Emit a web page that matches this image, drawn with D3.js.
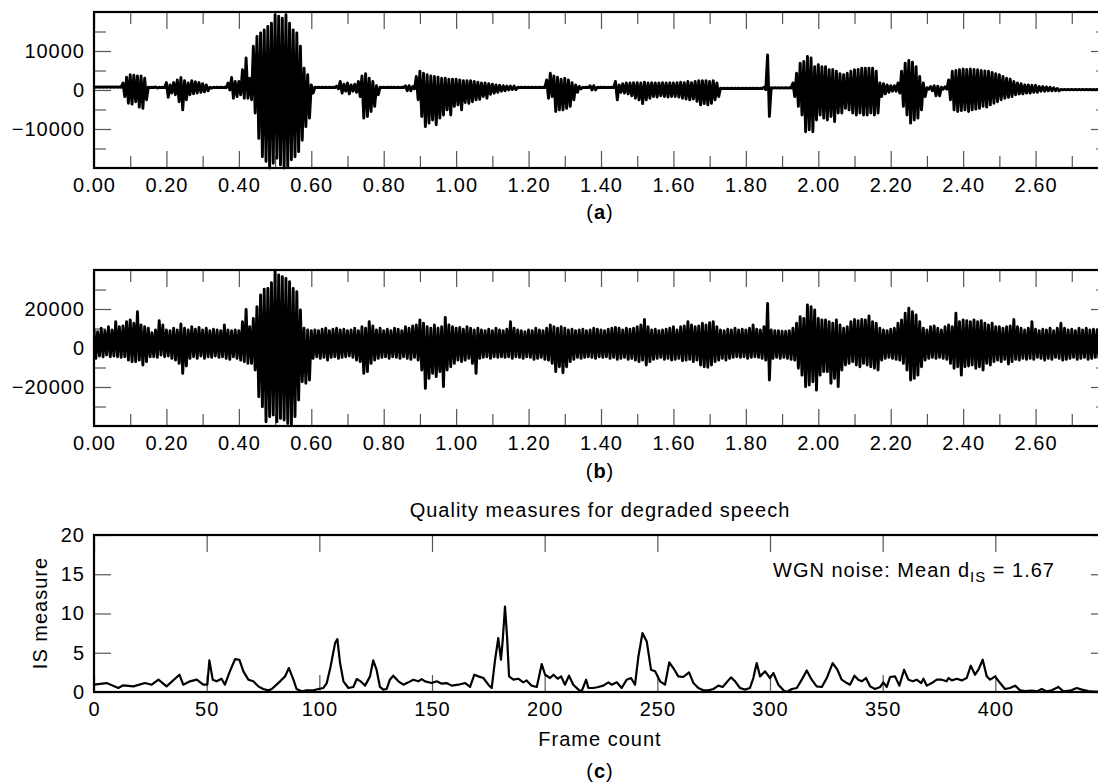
<!DOCTYPE html>
<html>
<head>
<meta charset="utf-8">
<script src="https://cdn.jsdelivr.net/npm/d3@7"></script>
<style>
  body { margin: 0; background: #fff; }
  svg { display: block; font-family: "Liberation Sans", Arial, Helvetica, sans-serif; }
  .tick line { stroke: #555; stroke-width: 1.2px; }
  .domain { display: none; }
  .tick text { font-size: 20px; fill: #000; letter-spacing: 1px; }
  .lbl { font-size: 20px; fill: #000; letter-spacing: 1px; }
</style>
</head>
<body>
<svg id="chart"></svg>
<script>
// ---- data ----
// waveform envelopes, one value per 10 ms, from t = 0.00 s
const sampleStep = 0.01;

const cleanHi = [
  800,800,800,800,800,800,800,800,1800,3300,
  3900,3800,3600,3600,3000,700,700,800,700,700,
  1900,1300,1900,2600,3200,2400,1800,2400,2100,1900,
  1600,1300,700,700,700,700,700,1800,3200,2200,
  2200,5200,8200,3000,11200,13700,14600,15400,16300,17100,
  19300,18900,18400,19300,17100,15400,14600,11200,5600,3900,
  1300,700,700,700,700,700,700,1000,2200,1500,
  1800,1300,1500,2200,3600,4200,3000,2200,1100,700,
  700,700,700,700,700,700,1100,1100,900,3500,
  4800,4300,3900,3600,3500,3300,3000,3000,2800,2800,
  2800,2600,2400,2400,2400,2200,2000,1800,1800,1600,
  1500,1300,1200,1100,1000,1000,1000,700,700,700,
  700,700,700,700,700,2600,4300,3600,3300,2800,
  3000,2600,1900,1300,900,700,700,1100,1100,700,
  700,700,700,700,2200,1300,1600,1800,1800,1900,
  1900,1800,2000,1800,1900,1800,1800,1900,1800,1900,
  1800,1900,2000,1900,2200,1900,2200,2400,2400,2400,
  2200,2400,1800,450,450,450,450,450,450,450,
  450,450,450,450,450,700,9000,600,600,600,
  600,600,600,1800,4300,6900,7300,8600,8200,6000,
  6500,6000,6000,5200,5300,4800,4200,3900,4300,4800,
  5200,5300,5600,5600,5600,5600,4800,1800,1600,1300,
  1100,1100,1800,4800,6900,7600,7100,6000,3500,1800,
  600,900,1100,1000,700,800,2600,4800,5000,5200,
  5400,5300,5400,5300,5200,5000,4900,4800,4500,4200,
  3900,3500,3000,2800,2200,1800,1600,1300,1300,1200,
  1200,900,900,800,700,600,400,150,150,150,
  150,150,150,150,150,150,150,150
];
const cleanLo = [
  700,700,700,700,700,700,700,700,-1700,-3400,
  -3600,-3000,-4400,-4700,-2500,600,600,500,600,600,
  -1900,-800,-1200,-3000,-5100,-2500,-1200,-1000,-800,-600,
  -500,-200,500,600,600,600,600,0,-2100,-1700,
  -1200,-2100,-2100,-2500,-5900,-12400,-17100,-18300,-20000,-18800,
  -17500,-19200,-20000,-19600,-17900,-17100,-15800,-12900,-9400,-7200,
  -800,600,600,600,600,600,600,300,-800,-300,
  -1000,-300,-600,-1700,-7200,-6800,-5500,-4200,-1200,600,
  600,600,600,600,600,600,-200,-200,300,-2500,
  -6800,-9400,-8500,-7700,-8900,-7200,-6400,-5100,-6400,-4200,
  -3800,-5100,-3200,-3400,-3000,-2500,-2400,-1700,-2100,-1100,
  -800,-600,-300,-200,0,100,100,600,600,600,
  600,600,600,600,600,-2100,-1700,-5500,-5100,-5100,
  -4700,-4200,-2500,-600,300,600,600,0,0,600,
  600,600,600,600,-2500,-600,-800,-1000,-1500,-2100,
  -2500,-3500,-2500,-2100,-1700,-1800,-1500,-1700,-1800,-1700,
  -1700,-1800,-2100,-2300,-2500,-2300,-2900,-3800,-3500,-3800,
  -3400,-2500,-1700,350,350,350,350,350,350,350,
  350,350,350,350,350,100,-6800,500,500,500,
  500,500,500,-1700,-4200,-6400,-10700,-10200,-10700,-7700,
  -6400,-7200,-7700,-6800,-8100,-5900,-5900,-4700,-5100,-5900,
  -6400,-5900,-6400,-6400,-5900,-6400,-5900,-1700,-1000,-600,
  -300,-300,-800,-4200,-6400,-8500,-7700,-7200,-5100,-1700,
  200,-200,-1500,-1500,200,200,-2500,-5100,-5500,-5300,
  -5100,-5500,-5100,-4900,-4700,-4200,-4400,-3800,-3400,-3000,
  -2500,-2100,-1900,-1700,-1200,-1000,-1000,-800,-800,-600,
  -600,-300,-300,-200,-200,-200,-200,50,50,50,
  50,50,50,50,50,50,50,50
];

const noisyHi = [
  9600,8400,10100,8900,10900,9200,13500,10900,11300,13500,
  14400,12700,18600,11800,10900,10100,7900,9200,14000,11800,
  9200,8900,10100,9200,12300,10100,9200,10900,9600,10600,
  9200,10100,8900,9600,9200,8900,11800,9200,8900,9200,
  8900,13500,19800,10900,15200,21200,27200,30100,30600,33500,
  39200,37500,36600,35700,34000,30600,28900,19500,10100,9200,
  8900,9200,8900,9600,10100,8900,9600,10100,9200,9600,
  8900,9200,10100,8900,10900,10100,13500,11300,9200,10100,
  8900,9600,8900,10100,9600,8900,10900,10100,11300,11800,
  14400,12700,10900,10100,11800,10100,10900,15700,11800,10900,
  10100,10600,9600,10900,10100,9200,10100,9200,8900,9600,
  8900,10100,9200,8900,9600,13500,10100,9200,8900,8400,
  9200,8900,10100,9200,8900,10100,11800,10900,10100,10900,
  10100,9200,9600,8900,9200,9600,8900,9200,10100,9600,
  9200,8900,9600,10100,10600,10100,9200,10100,9600,10100,
  10900,11800,14700,10900,9200,9600,8900,9200,9600,10100,
  10900,9200,10900,11300,13500,11800,10900,11300,12700,11800,
  13000,13500,10900,9200,8900,9600,9200,10100,9200,9600,
  9200,10100,11800,9600,9200,10900,22900,9200,8900,8900,
  8600,8600,8900,10100,12700,16100,15200,22100,21200,19500,
  15200,14400,14400,13500,12700,14400,11800,10100,10900,13500,
  14700,14000,14700,14400,16400,13500,12700,10100,9200,8900,
  9600,10100,12700,14400,17800,20400,18600,16900,13500,10100,
  9200,10900,11300,10100,9200,10900,11800,10900,17800,13500,
  14400,14000,13500,14400,13500,14000,12700,11800,12700,10900,
  10900,10100,10900,11300,14700,10900,10100,9200,10100,13500,
  9600,8900,9600,9200,10100,8900,10100,12700,10100,9200,
  9600,8900,10100,9200,10100,9200,9600,9200
];
const noisyLo = [
  -5300,-4100,-4500,-3600,-4500,-4100,-4500,-4800,-4500,-6200,
  -7000,-7000,-6200,-8700,-7000,-4500,-4500,-4800,-3600,-4500,
  -4100,-5300,-6200,-7900,-13000,-9200,-5300,-4500,-5300,-4100,
  -5300,-4500,-4800,-4100,-4800,-4500,-5300,-5800,-4500,-5300,
  -6200,-7000,-7900,-7900,-11300,-25000,-30100,-37800,-35200,-34400,
  -37800,-36100,-36900,-38700,-39800,-35200,-26700,-17300,-18100,-16400,
  -5300,-4500,-5300,-4800,-6200,-4800,-4500,-5300,-4800,-4500,
  -4100,-4800,-6200,-7000,-13000,-12100,-7900,-6200,-5300,-4800,
  -4500,-5300,-4500,-4800,-5300,-4500,-5300,-5800,-4800,-6200,
  -11300,-20700,-15600,-13000,-14700,-12100,-19800,-11300,-9600,-7900,
  -6200,-7000,-6200,-5300,-7900,-13000,-5300,-4800,-4500,-5300,
  -4500,-4800,-4500,-4800,-4500,-5300,-4500,-4800,-5300,-4500,
  -4800,-5800,-5300,-4800,-5800,-6200,-7900,-12100,-9600,-12700,
  -9600,-7000,-5800,-4800,-5300,-4800,-4500,-4800,-5300,-4500,
  -4800,-4500,-5300,-4800,-5800,-5300,-4800,-5800,-5300,-6200,
  -7000,-6200,-8700,-7000,-5800,-5300,-4800,-5800,-5300,-6200,
  -5800,-5300,-6500,-6200,-5800,-7000,-6200,-8700,-9600,-9900,
  -8700,-7000,-6200,-5300,-6200,-5300,-4800,-4500,-4800,-4500,
  -5300,-4800,-4500,-4800,-5300,-6200,-16400,-5300,-4800,-5300,
  -4800,-5300,-5800,-6200,-10400,-13900,-19800,-19000,-17300,-21600,
  -13900,-12100,-12100,-18100,-15600,-19800,-11300,-8700,-7900,-7000,
  -8700,-9600,-7900,-8700,-9600,-10400,-11300,-6200,-5300,-4800,
  -5300,-5800,-6200,-7900,-11300,-16400,-15600,-13900,-9600,-6200,
  -5300,-4800,-5300,-4800,-5300,-5800,-7900,-10400,-9600,-13900,
  -9600,-9200,-8700,-10400,-9600,-11300,-7900,-8700,-7000,-6200,
  -7000,-5800,-8200,-7000,-5800,-6200,-5300,-5800,-5300,-5800,
  -4800,-5300,-6200,-5300,-5800,-4800,-5300,-6200,-5800,-5300,
  -4800,-5800,-5300,-4800,-5800,-5300,-4800,-5300
];

// IS measure per frame
const isFrames = [
  0,5.6,10.8,13,17.5,22.6,25.6,28.6,32.2,37.9,39.6,42.6,45.6,48.5,50.3,51.2,52.7,54.4,56.6,58.1,
  60.3,62.6,64.5,66.3,68.5,70.7,72.9,75.1,77.4,78.9,82.6,84.8,86.5,88.5,89.9,92.2,94.4,97.3,99.6,101.8,
  103.3,105,107,108,109.2,110.7,112.9,115.1,116.6,118.3,120.3,122.5,123.9,125.4,126.9,128.4,129.9,131.3,132.8,135.1,
  137.3,139.5,141.7,143.9,145.4,146.9,149.9,152.1,154.3,156.5,158.7,161.7,164.7,166.9,168.8,170.6,172.8,175,176.5,178,
  179.4,180.6,181.4,182.4,183.3,184.2,186.1,188.3,190.5,192,194.2,196.5,198.7,200.2,202.4,203.9,205.8,207.3,209,210.8,
  212.7,215,216.4,218.4,219.4,221.6,223.8,226,228.3,229.7,232,234.2,236.4,238.3,240.1,241.6,243.4,245.3,247.2,249,
  251.2,253.4,255.3,257.1,259.3,261.5,264.1,266,268.2,270.4,272.6,274.9,277.1,279,280.8,282.7,284.5,286.7,288.9,291.1,
  292.6,294.1,295.6,297.8,300,301.5,303.7,306,307.4,309.7,311.9,314.1,316.3,318.5,320.7,323,325.2,327.8,329.9,331.8,
  334.1,335.5,337.5,339.2,340.7,342.6,344.4,346.6,348.9,350.3,351.8,353.3,355.5,357.4,359.5,361.4,363.4,365.1,367.1,368.1,
  369.6,371.8,374,376.2,378.4,379.2,380.7,382.9,385.1,387.3,389.1,391,392.5,394.4,396.2,397.7,399.9,402.1,404.3,406.5,
  408.8,411,413.2,416.2,418.4,420.6,422.8,425,428,430.2,433.2,436.1,438.4,441.3,443.5,446
];
const isValues = [
  0.95,1.14,0.51,0.85,0.72,1.14,0.93,1.57,0.72,2.2,0.93,1.36,1.57,0.93,0.93,4.03,1.57,1.36,1.69,0.93,
  2.63,4.19,4.11,2.63,1.57,1.36,0.72,0.38,0.21,0.38,1.36,1.99,3.05,1.57,0.38,0.08,0.21,0.21,0.38,0.51,
  1.14,3.26,6.23,6.74,3.69,1.36,0.51,0.64,1.65,1.36,0.81,1.99,4.03,2.84,0.64,0.3,0.38,1.57,2.08,1.36,
  0.93,1.23,1.57,1.36,1.65,1.36,1.14,1.36,1.06,1.14,0.81,0.93,1.14,0.64,2.2,1.99,1.78,0.93,0.51,4.11,
  6.86,4.11,6.65,10.89,7.08,1.99,1.57,1.69,1.23,1.48,0.81,0.64,3.56,2.2,1.78,2.2,1.69,1.99,0.93,2.08,
  0.93,0.3,0.08,1.57,0.51,0.51,0.64,0.81,1.23,0.93,1.23,0.51,1.57,1.78,0.93,4.53,7.5,6.44,2.84,2.63,
  1.36,0.93,3.77,3.05,1.99,1.91,2.5,1.14,0.51,0.21,0.21,0.38,0.81,0.64,1.23,1.86,1.36,0.51,0.3,0.51,
  1.78,3.69,1.99,2.63,1.78,2.42,0.93,0.21,0,0.38,0.51,1.57,2.75,1.57,0.72,0.64,1.78,3.69,2.84,1.57,
  1.14,0.93,2.08,1.57,1.36,1.78,0.72,0.38,0.64,1.23,0.64,1.91,1.99,0.81,2.84,1.57,1.36,1.57,1.14,1.69,
  0.81,1.14,1.57,1.57,1.36,1.78,1.48,1.69,1.48,1.78,3.35,2.2,2.84,4.11,1.99,1.57,1.99,1.14,0.38,0.51,
  0.81,0.21,0.13,0.17,0.08,0.38,0.08,0.21,0.64,0.08,0.17,0.51,0.3,0.13,0.04,0.05
];

// ticks
const timeTicks = [0,0.2,0.4,0.6,0.8,1.0,1.2,1.4,1.6,1.8,2.0,2.2,2.4,2.6];
const timeMinorTicks = [0.1,0.3,0.5,0.7,0.9,1.1,1.3,1.5,1.7,1.9,2.1,2.3,2.5,2.7];
const cleanYTicks = [-10000,0,10000];
const cleanYMinor = [-15000,-5000,5000,15000];
const noisyYTicks = [-20000,0,20000];
const noisyYMinor = [-30000,-10000,10000,30000];
const frameTicks = [0,50,100,150,200,250,300,350,400];
const isYTicks = [0,5,10,15,20];

// ---- layout ----
const containerWidth = 1098;
const containerHeight = 782;
const plotLeft = 94;
const plotWidth = 1014;
const majorLen = 17, minorLen = 12;

const svg = d3.select("#chart")
  .attr("width", containerWidth)
  .attr("height", containerHeight);

svg.append("defs").append("clipPath").attr("id", "plotClip")
  .append("rect").attr("width", plotWidth).attr("height", 160).attr("y", -2);

function frameAxes(g, xScale, yScale, h, xMajor, xMinor, yMajor, yMinor, xFmt) {
  const yFmt = d3.format("d");
  g.append("g").attr("transform", `translate(0,${h})`)
    .call(d3.axisBottom(xScale).tickValues(xMajor).tickSize(-majorLen).tickPadding(10).tickFormat(xFmt));
  g.append("g").call(d3.axisTop(xScale).tickValues(xMajor).tickSize(-majorLen).tickFormat(""));
  g.append("g").call(d3.axisLeft(yScale).tickValues(yMajor).tickSize(-majorLen).tickPadding(9).tickFormat(yFmt));
  g.append("g").attr("transform", `translate(${plotWidth},0)`)
    .call(d3.axisRight(yScale).tickValues(yMajor).tickSize(-majorLen).tickFormat(""));
  if (xMinor) {
    g.append("g").attr("transform", `translate(0,${h})`)
      .call(d3.axisBottom(xScale).tickValues(xMinor).tickSize(-minorLen).tickFormat(""));
    g.append("g").call(d3.axisTop(xScale).tickValues(xMinor).tickSize(-minorLen).tickFormat(""));
  }
  if (yMinor) {
    g.append("g").call(d3.axisLeft(yScale).tickValues(yMinor).tickSize(-minorLen).tickFormat(""));
    g.append("g").attr("transform", `translate(${plotWidth},0)`)
      .call(d3.axisRight(yScale).tickValues(yMinor).tickSize(-minorLen).tickFormat(""));
  }
  g.append("rect")
    .attr("width", plotWidth).attr("height", h)
    .attr("fill", "none").attr("stroke", "#000").attr("stroke-width", 2.2);
}

function panelLabel(letter, y) {
  const t = svg.append("text").attr("class", "lbl")
    .attr("x", 600).attr("y", y).attr("text-anchor", "middle");
  t.append("tspan").text("(");
  t.append("tspan").attr("font-weight", "bold").text(letter);
  t.append("tspan").text(")");
}

function drawWave(top, hi, lo, yMax, yMajor, yMinor, letter, labelY) {
  const h = 156;
  const g = svg.append("g").attr("transform", `translate(${plotLeft},${top})`);
  const xScale = d3.scaleLinear().domain([0, 2.8]).range([0, plotWidth]);
  const yScale = d3.scaleLinear().domain([-yMax, yMax]).range([h, 0]);

  // swing between the upper and lower envelope like an oscillating trace
  const trace = [];
  hi.forEach((v, i) => {
    trace.push({t: i * sampleStep, v: v});
    trace.push({t: i * sampleStep + sampleStep / 2, v: lo[i]});
  });

  const line = d3.line()
    .x(d => xScale(d.t))
    .y(d => yScale(d.v));

  frameAxes(g, xScale, yScale, h, timeTicks, timeMinorTicks, yMajor, yMinor, d3.format(".2f"));

  g.append("path")
    .datum(trace)
    .attr("clip-path", "url(#plotClip)")
    .attr("d", line)
    .attr("fill", "none")
    .attr("stroke", "#000")
    .attr("stroke-width", 2.9)
    .attr("stroke-linejoin", "round");

  panelLabel(letter, labelY);
}

drawWave(12, cleanHi, cleanLo, 20000, cleanYTicks, cleanYMinor, "a", 219);
drawWave(270, noisyHi, noisyLo, 40000, noisyYTicks, noisyYMinor, "b", 478);

// ---- panel c: IS measure ----
{
  const h = 157;
  const top = 535;
  const g = svg.append("g").attr("transform", `translate(${plotLeft},${top})`);
  const xScale = d3.scaleLinear().domain([0, 450]).range([0, plotWidth]);
  const yScale = d3.scaleLinear().domain([0, 20]).range([h, 0]);

  frameAxes(g, xScale, yScale, h, frameTicks, null, isYTicks, null, d3.format("d"));

  const line = d3.line()
    .x((d, i) => xScale(isFrames[i]))
    .y(d => yScale(d));

  g.append("path")
    .datum(isValues)
    .attr("d", line)
    .attr("fill", "none")
    .attr("stroke", "#000")
    .attr("stroke-width", 2.2)
    .attr("stroke-linejoin", "round");

  svg.append("text").attr("class", "lbl")
    .attr("x", 600).attr("y", 517).attr("text-anchor", "middle")
    .text("Quality measures for degraded speech");

  const note = svg.append("text").attr("class", "lbl")
    .attr("x", 773).attr("y", 577);
  note.append("tspan").text("WGN noise: Mean d");
  note.append("tspan").attr("font-size", 15).attr("dy", 5).text("IS");
  note.append("tspan").attr("dy", -5).text(" = 1.67");

  svg.append("text").attr("class", "lbl")
    .attr("transform", "translate(47,613) rotate(-90)")
    .attr("text-anchor", "middle")
    .text("IS measure");

  svg.append("text").attr("class", "lbl")
    .attr("x", 600).attr("y", 746).attr("text-anchor", "middle")
    .text("Frame count");

  panelLabel("c", 778);
}
</script>
</body>
</html>
